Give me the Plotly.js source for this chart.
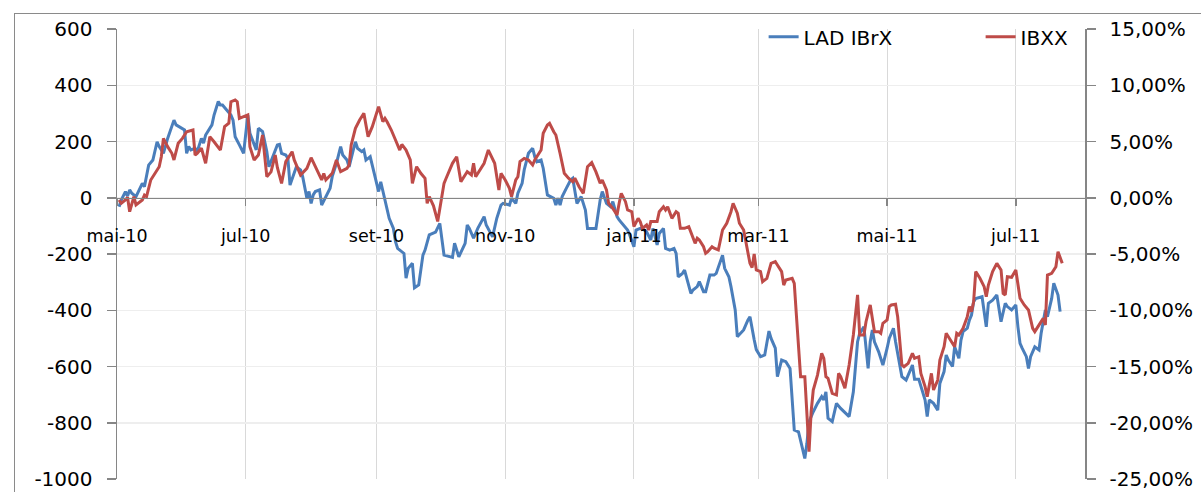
<!DOCTYPE html>
<html>
<head>
<meta charset="utf-8">
<script src="https://cdn.plot.ly/plotly-3.0.1.min.js"></script>
<style>
  html, body { margin:0; padding:0; background:#fff; overflow:hidden; }
  #wrap { position:relative; width:1201px; height:492px; overflow:hidden; }
  #chart { position:absolute; left:0; top:0; width:1201px; height:492px; }
  #frame { position:absolute; left:14px; top:13px; width:1400px; height:700px; border:1.5px solid #8a8a8a; pointer-events:none; }
</style>
</head>
<body>
<div id="wrap"><div id="chart"></div><div id="frame"></div></div>
<script>
// ---- data ----
const ladDates = ["2010-05-02","2010-05-03","2010-05-05","2010-05-06","2010-05-07","2010-05-08","2010-05-10","2010-05-13","2010-05-14","2010-05-16","2010-05-18","2010-05-20","2010-05-21","2010-05-23","2010-05-25","2010-05-28","2010-05-29","2010-06-02","2010-06-03","2010-06-04","2010-06-05","2010-06-07","2010-06-08","2010-06-10","2010-06-11","2010-06-12","2010-06-15","2010-06-16","2010-06-18","2010-06-19","2010-06-20","2010-06-24","2010-06-25","2010-06-26","2010-06-28","2010-06-30","2010-07-02","2010-07-03","2010-07-06","2010-07-07","2010-07-09","2010-07-11","2010-07-12","2010-07-14","2010-07-16","2010-07-17","2010-07-18","2010-07-20","2010-07-21","2010-07-22","2010-07-24","2010-07-25","2010-07-27","2010-07-28","2010-07-30","2010-07-31","2010-08-01","2010-08-02","2010-08-03","2010-08-05","2010-08-06","2010-08-08","2010-08-10","2010-08-11","2010-08-13","2010-08-15","2010-08-16","2010-08-18","2010-08-19","2010-08-21","2010-08-22","2010-08-23","2010-08-25","2010-08-26","2010-08-27","2010-08-29","2010-08-30","2010-08-31","2010-09-02","2010-09-03","2010-09-05","2010-09-07","2010-09-09","2010-09-10","2010-09-11","2010-09-14","2010-09-15","2010-09-16","2010-09-18","2010-09-19","2010-09-21","2010-09-22","2010-09-23","2010-09-24","2010-09-26","2010-09-29","2010-10-01","2010-10-03","2010-10-07","2010-10-08","2010-10-10","2010-10-13","2010-10-14","2010-10-15","2010-10-17","2010-10-19","2010-10-22","2010-10-23","2010-10-26","2010-10-28","2010-10-30","2010-10-31","2010-11-03","2010-11-04","2010-11-06","2010-11-07","2010-11-09","2010-11-10","2010-11-12","2010-11-14","2010-11-15","2010-11-16","2010-11-18","2010-11-19","2010-11-21","2010-11-22","2010-11-24","2010-11-25","2010-11-26","2010-11-27","2010-11-28","2010-11-30","2010-12-02","2010-12-03","2010-12-05","2010-12-07","2010-12-09","2010-12-10","2010-12-14","2010-12-16","2010-12-17","2010-12-19","2010-12-21","2010-12-22","2010-12-24","2010-12-25","2010-12-27","2010-12-29","2010-12-30","2011-01-01","2011-01-02","2011-01-04","2011-01-06","2011-01-07","2011-01-09","2011-01-10","2011-01-12","2011-01-13","2011-01-15","2011-01-16","2011-01-18","2011-01-20","2011-01-21","2011-01-22","2011-01-24","2011-01-25","2011-01-28","2011-01-29","2011-01-31","2011-02-01","2011-02-03","2011-02-04","2011-02-06","2011-02-08","2011-02-09","2011-02-12","2011-02-13","2011-02-15","2011-02-16","2011-02-18","2011-02-19","2011-02-22","2011-02-24","2011-02-25","2011-02-27","2011-02-28","2011-03-02","2011-03-04","2011-03-06","2011-03-07","2011-03-09","2011-03-10","2011-03-12","2011-03-14","2011-03-16","2011-03-17","2011-03-18","2011-03-20","2011-03-23","2011-03-24","2011-03-25","2011-03-27","2011-03-29","2011-03-31","2011-04-01","2011-04-02","2011-04-03","2011-04-05","2011-04-07","2011-04-09","2011-04-13","2011-04-15","2011-04-17","2011-04-18","2011-04-20","2011-04-22","2011-04-23","2011-04-24","2011-04-25","2011-04-27","2011-04-29","2011-05-01","2011-05-02","2011-05-04","2011-05-05","2011-05-08","2011-05-10","2011-05-13","2011-05-14","2011-05-16","2011-05-17","2011-05-19","2011-05-20","2011-05-21","2011-05-23","2011-05-25","2011-05-26","2011-05-28","2011-05-29","2011-05-30","2011-06-01","2011-06-02","2011-06-04","2011-06-05","2011-06-06","2011-06-08","2011-06-09","2011-06-10","2011-06-11","2011-06-12","2011-06-15","2011-06-17","2011-06-18","2011-06-20","2011-06-22","2011-06-24","2011-06-26","2011-06-27","2011-06-29","2011-07-01","2011-07-02","2011-07-03","2011-07-04","2011-07-06","2011-07-07","2011-07-08","2011-07-10","2011-07-12","2011-07-13","2011-07-15","2011-07-16","2011-07-18","2011-07-19","2011-07-21","2011-07-22"];
const ladValues = [-32,-8,22,6,28,16,4,51,39,116,134,199,182,158,211,276,259,241,158,182,170,176,164,211,194,223,259,294,342,330,330,294,276,217,188,158,294,229,170,247,235,164,110,152,188,190,158,152,140,45,93,110,99,75,-2,22,-20,10,22,28,-26,4,34,75,122,182,152,134,110,170,199,176,164,170,134,146,116,75,22,57,-14,-73,-109,-156,-180,-198,-286,-251,-233,-320,-310,-251,-204,-186,-132,-122,-91,-204,-212,-162,-210,-162,-97,-109,-144,-109,-67,-97,-139,-73,-26,-20,-26,-2,-20,16,51,99,158,176,146,128,134,105,10,6,-2,-26,-2,-26,4,34,63,69,-20,4,-44,-109,-109,-8,22,-20,-32,-14,-67,-79,-97,-115,-132,-174,-115,-109,-115,-121,-150,-109,-168,-127,-109,-180,-186,-180,-198,-281,-269,-257,-340,-328,-316,-298,-334,-334,-275,-275,-269,-204,-251,-281,-316,-399,-494,-470,-435,-423,-505,-540,-565,-559,-474,-500,-535,-636,-577,-583,-607,-701,-826,-832,-927,-873,-796,-761,-731,-707,-719,-690,-784,-796,-731,-749,-778,-690,-512,-482,-459,-607,-512,-470,-512,-548,-595,-535,-500,-464,-512,-636,-648,-595,-645,-645,-672,-719,-778,-719,-731,-755,-660,-618,-559,-577,-600,-530,-571,-506,-476,-464,-435,-417,-370,-358,-352,-459,-375,-364,-346,-441,-375,-387,-399,-381,-459,-518,-535,-565,-607,-565,-530,-541,-482,-399,-423,-358,-304,-346,-405];

const ibxxDates = ["2010-05-02","2010-05-03","2010-05-05","2010-05-06","2010-05-07","2010-05-09","2010-05-10","2010-05-13","2010-05-14","2010-05-15","2010-05-17","2010-05-19","2010-05-21","2010-05-22","2010-05-23","2010-05-25","2010-05-27","2010-05-28","2010-05-30","2010-06-01","2010-06-03","2010-06-06","2010-06-07","2010-06-08","2010-06-10","2010-06-12","2010-06-14","2010-06-16","2010-06-19","2010-06-21","2010-06-23","2010-06-24","2010-06-26","2010-06-27","2010-06-28","2010-06-30","2010-07-02","2010-07-03","2010-07-05","2010-07-07","2010-07-09","2010-07-11","2010-07-13","2010-07-15","2010-07-16","2010-07-18","2010-07-20","2010-07-23","2010-07-24","2010-07-27","2010-07-30","2010-08-01","2010-08-03","2010-08-04","2010-08-06","2010-08-07","2010-08-08","2010-08-11","2010-08-13","2010-08-15","2010-08-18","2010-08-19","2010-08-20","2010-08-22","2010-08-24","2010-08-26","2010-08-28","2010-08-30","2010-09-02","2010-09-04","2010-09-05","2010-09-06","2010-09-08","2010-09-10","2010-09-12","2010-09-13","2010-09-15","2010-09-17","2010-09-18","2010-09-20","2010-09-22","2010-09-24","2010-09-25","2010-09-26","2010-09-28","2010-09-30","2010-10-01","2010-10-03","2010-10-04","2010-10-07","2010-10-09","2010-10-11","2010-10-13","2010-10-14","2010-10-16","2010-10-17","2010-10-18","2010-10-20","2010-10-22","2010-10-24","2010-10-27","2010-10-29","2010-10-30","2010-11-01","2010-11-03","2010-11-04","2010-11-06","2010-11-07","2010-11-08","2010-11-10","2010-11-12","2010-11-14","2010-11-15","2010-11-18","2010-11-19","2010-11-21","2010-11-22","2010-11-24","2010-11-25","2010-11-27","2010-11-29","2010-12-01","2010-12-03","2010-12-04","2010-12-06","2010-12-08","2010-12-10","2010-12-12","2010-12-14","2010-12-16","2010-12-17","2010-12-19","2010-12-20","2010-12-22","2010-12-24","2010-12-25","2010-12-26","2010-12-28","2010-12-29","2010-12-31","2011-01-01","2011-01-03","2011-01-04","2011-01-05","2011-01-07","2011-01-08","2011-01-09","2011-01-12","2011-01-13","2011-01-15","2011-01-16","2011-01-17","2011-01-19","2011-01-21","2011-01-22","2011-01-23","2011-01-25","2011-01-27","2011-01-28","2011-01-29","2011-01-30","2011-01-31","2011-02-01","2011-02-03","2011-02-04","2011-02-05","2011-02-07","2011-02-08","2011-02-10","2011-02-12","2011-02-14","2011-02-16","2011-02-17","2011-02-19","2011-02-20","2011-02-22","2011-02-23","2011-02-25","2011-02-26","2011-02-27","2011-02-28","2011-03-02","2011-03-03","2011-03-05","2011-03-07","2011-03-09","2011-03-10","2011-03-12","2011-03-13","2011-03-14","2011-03-17","2011-03-18","2011-03-19","2011-03-21","2011-03-23","2011-03-25","2011-03-26","2011-03-27","2011-03-29","2011-03-31","2011-04-01","2011-04-02","2011-04-03","2011-04-05","2011-04-07","2011-04-08","2011-04-09","2011-04-11","2011-04-13","2011-04-14","2011-04-15","2011-04-17","2011-04-18","2011-04-20","2011-04-21","2011-04-23","2011-04-25","2011-04-27","2011-04-28","2011-04-29","2011-05-01","2011-05-02","2011-05-03","2011-05-05","2011-05-06","2011-05-08","2011-05-09","2011-05-11","2011-05-13","2011-05-14","2011-05-16","2011-05-17","2011-05-19","2011-05-20","2011-05-21","2011-05-22","2011-05-23","2011-05-25","2011-05-26","2011-05-28","2011-05-29","2011-05-31","2011-06-02","2011-06-03","2011-06-04","2011-06-06","2011-06-08","2011-06-09","2011-06-10","2011-06-11","2011-06-12","2011-06-14","2011-06-16","2011-06-17","2011-06-18","2011-06-20","2011-06-22","2011-06-24","2011-06-25","2011-06-26","2011-06-27","2011-06-29","2011-07-01","2011-07-03","2011-07-05","2011-07-07","2011-07-09","2011-07-10","2011-07-12","2011-07-14","2011-07-15","2011-07-16","2011-07-18","2011-07-20","2011-07-21","2011-07-23"];
const ibxxValues = [-0.20,-0.49,-0.20,0.04,-1.24,0.09,-0.64,-0.20,0.24,0.09,1.58,2.17,2.76,3.65,5.28,4.54,3.95,3.36,4.84,5.28,5.87,6.02,3.80,3.95,4.40,3.06,5.43,4.98,4.24,6.32,6.62,8.54,8.69,8.54,7.06,7.21,7.36,4.54,3.36,3.80,5.58,1.87,2.30,3.80,2.70,1.28,3.21,4.09,3.36,2.02,2.61,3.56,2.76,2.47,1.58,2.17,1.58,2.17,3.36,2.32,2.61,2.91,4.69,6.17,6.91,7.50,5.43,6.32,8.10,6.76,7.06,6.76,6.02,5.13,4.24,4.74,4.24,3.36,1.28,2.76,2.17,1.73,-0.49,0.09,-0.72,-2.10,-0.90,1.28,1.73,3.06,3.65,1.43,2.02,2.32,2.02,3.06,1.87,2.47,3.06,4.24,3.06,0.69,2.17,1.58,0.84,0.09,1.58,1.87,3.21,3.50,3.36,2.91,3.36,4.24,5.73,6.47,6.62,5.87,5.58,3.95,2.17,1.73,1.43,1.73,0.98,0.39,2.76,3.12,2.30,1.30,1.58,0.69,-0.49,-0.94,-1.53,-0.49,0.39,-0.35,-1.09,-1.24,-2.57,-1.83,-2.12,-2.72,-2.42,-2.87,-2.12,-2.12,-1.24,-0.80,-1.09,-0.80,-1.83,-1.24,-1.38,-2.72,-2.72,-2.57,-3.01,-3.60,-4.05,-3.60,-3.76,-4.35,-4.94,-4.79,-4.35,-4.49,-4.64,-2.87,-2.27,-1.24,-0.49,-1.38,-2.27,-2.87,-3.76,-5.83,-6.20,-5.00,-6.42,-6.57,-7.46,-7.16,-5.83,-5.68,-5.98,-6.57,-7.76,-7.31,-7.16,-7.61,-10.42,-15.91,-15.91,-22.57,-19.02,-17.09,-15.76,-13.83,-14.27,-15.91,-16.05,-17.38,-17.53,-15.61,-15.91,-16.94,-14.87,-13.38,-12.20,-8.64,-12.20,-12.20,-11.02,-9.53,-11.90,-11.90,-12.05,-11.16,-10.87,-9.68,-9.53,-9.47,-10.57,-14.87,-15.02,-14.72,-13.83,-14.27,-14.13,-15.61,-16.79,-17.68,-16.79,-15.61,-17.09,-16.20,-14.42,-13.24,-12.05,-12.64,-13.24,-12.05,-12.20,-11.61,-10.57,-9.68,-10.13,-9.24,-6.57,-7.16,-7.90,-8.80,-7.76,-6.57,-5.83,-6.42,-8.50,-8.64,-7.02,-7.07,-6.42,-8.94,-9.53,-9.98,-11.61,-11.90,-11.31,-10.72,-11.31,-6.87,-6.72,-6.13,-4.79,-5.83];

const seriesNames = ["LAD IBrX", "IBXX"];
const monthTickDates = ["2010-05-01","2010-07-01","2010-09-01","2010-11-01","2011-01-01","2011-03-01","2011-05-01","2011-07-01"];
const monthTickLabels = ["mai-10","jul-10","set-10","nov-10","jan-11","mar-11","mai-11","jul-11"];
const leftTickVals = [-1000,-800,-600,-400,-200,0,200,400,600];
const leftTickLabels = ["-1000","-800","-600","-400","-200","0","200","400","600"];
const rightTickVals = [-25,-20,-15,-10,-5,0,5,10,15];
const rightTickLabels = ["-25,00%","-20,00%","-15,00%","-10,00%","-5,00%","0,00%","5,00%","10,00%","15,00%"];

// ---- chart ----
const axisGray = '#868686';
const traces = [
  { x: ladDates, y: ladValues, name: seriesNames[0], type: 'scatter', mode: 'lines',
    line: { color: '#4A7EBB', width: 3 }, yaxis: 'y' },
  { x: ibxxDates, y: ibxxValues, name: seriesNames[1], type: 'scatter', mode: 'lines',
    line: { color: '#BE4B48', width: 3 }, yaxis: 'y2' }
];

const layout = {
  width: 1201, height: 492,
  margin: { l: 117, r: 116, t: 29, b: 13, pad: 0, autoexpand: false },
  paper_bgcolor: 'rgba(0,0,0,0)', plot_bgcolor: '#ffffff',
  font: { family: 'DejaVu Sans, sans-serif', size: 20, color: '#000000' },
  showlegend: true,
  legend: {
    orientation: 'h', x: 0.668, y: 1.026, xanchor: 'left', yanchor: 'top',
    bgcolor: 'rgba(0,0,0,0)', borderwidth: 0,
    font: { size: 20, color: '#000000' },
    entrywidth: 172, entrywidthmode: 'pixels'
  },
  xaxis: {
    type: 'date', range: ['2010-05-01', '2011-08-02 19:00'], automargin: false,
    tickmode: 'array', tickvals: monthTickDates, ticktext: monthTickLabels,
    anchor: 'free', position: 0.625,
    showline: true, linecolor: axisGray, linewidth: 1.5,
    ticks: 'outside', ticklen: 7, tickwidth: 1.5, tickcolor: axisGray,
    showgrid: true, gridcolor: '#d9d9d9', gridwidth: 1,
    zeroline: false, tickfont: { size: 17.5 }, ticklabelstandoff: 15
  },
  yaxis: {
    range: [-1000, 600], automargin: false,
    tickmode: 'array', tickvals: leftTickVals, ticktext: leftTickLabels,
    showline: true, linecolor: axisGray, linewidth: 1.5,
    ticks: 'outside', ticklen: 9, tickwidth: 1.5, tickcolor: axisGray,
    showgrid: true, gridcolor: '#eeeeee', gridwidth: 1.5, zeroline: false,
    tickfont: { size: 20 }, ticklabelstandoff: 10
  },
  yaxis2: {
    overlaying: 'y', side: 'right', range: [-25, 15], automargin: false,
    tickmode: 'array', tickvals: rightTickVals, ticktext: rightTickLabels,
    showline: true, linecolor: axisGray, linewidth: 1.5,
    ticks: 'outside', ticklen: 9, tickwidth: 1.5, tickcolor: axisGray,
    showgrid: false, zeroline: false, tickfont: { size: 20 }, ticklabelstandoff: 10
  }
};

Plotly.newPlot('chart', traces, layout, { staticPlot: true, displayModeBar: false });
</script>
</body>
</html>
